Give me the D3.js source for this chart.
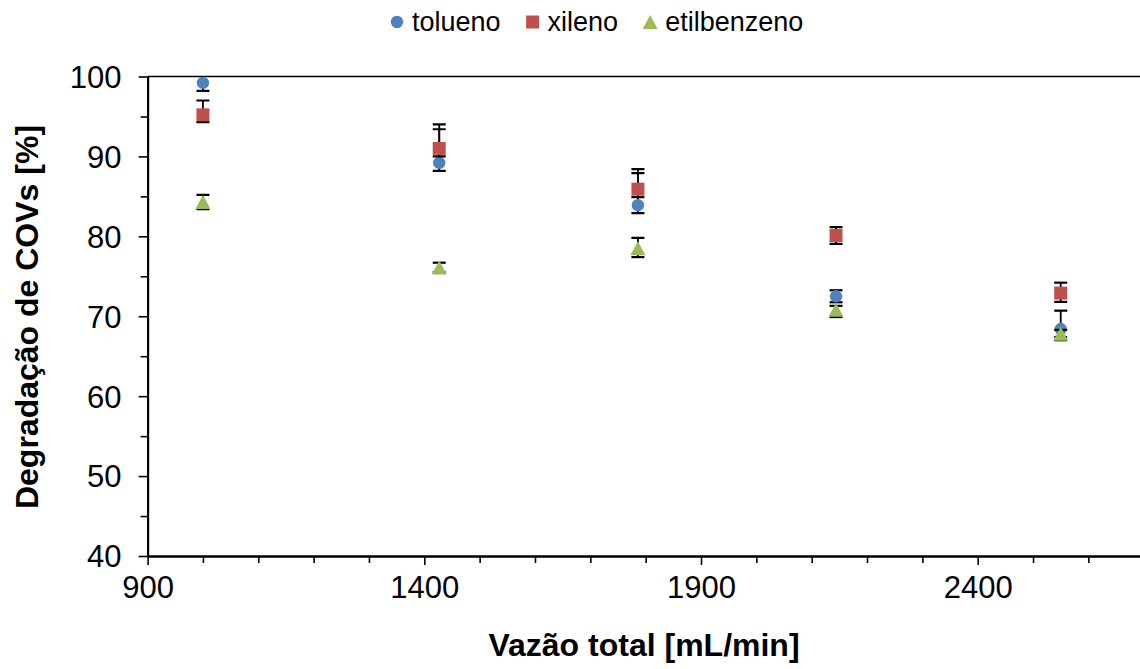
<!DOCTYPE html>
<html>
<head>
<meta charset="utf-8">
<script src="https://cdn.jsdelivr.net/npm/d3@7"></script>
<style>
  html, body { margin: 0; padding: 0; background: #fff; }
  svg { display: block; font-family: "Liberation Sans", Arial, sans-serif; }
</style>
</head>
<body>
<svg id="chart" width="1140" height="669"></svg>
<script>
// ---- data ----
const flows = [1000, 1427, 1786, 2144, 2550];
const seriesNames = ["tolueno", "xileno", "etilbenzeno"];
const tolueno = [99.2, 89.2, 83.9, 72.5, 68.4];
const toluenoPlus = [1.0, 4.2, 4.0, 0.75, 2.3];
const toluenoMinus = [1.0, 1.0, 1.0, 0.75, 1.0];
const xileno = [95.2, 91.0, 85.9, 80.1, 72.9];
const xilenoPlus = [1.8, 3.0, 2.5, 1.05, 1.3];
const xilenoMinus = [0.9, 1.0, 1.0, 1.05, 1.1];
const etilbenzeno = [84.3, 76.1, 78.5, 70.8, 67.8];
const etilbenzenoPlus = [0.9, 0.6, 1.3, 0.5, 0.5];
const etilbenzenoMinus = [0.9, 0.6, 1.1, 0.9, 0.8];
const xMajorTicks = [900, 1400, 1900, 2400];
const yMajorTicks = [40, 50, 60, 70, 80, 90, 100];
const xTitle = "Vazão total [mL/min]";
const yTitle = "Degradação de COVs [%]";

const colors = ["#4F81BD", "#C0504D", "#9BBB59"];
const shapes = ["circle", "square", "triangle"];

const series = [
  { name: seriesNames[0], values: tolueno, plus: toluenoPlus, minus: toluenoMinus },
  { name: seriesNames[1], values: xileno, plus: xilenoPlus, minus: xilenoMinus },
  { name: seriesNames[2], values: etilbenzeno, plus: etilbenzenoPlus, minus: etilbenzenoMinus }
];

// ---- layout ----
const svg = d3.select("#chart");
const plotLeft = 147.6, plotTop = 76.5, plotBottom = 556;
const x = d3.scaleLinear().domain([900, 2700]).range([plotLeft, plotLeft + 1800 * 0.5534]);
const y = d3.scaleLinear().domain([40, 100]).range([plotBottom, plotTop]);

svg.append("defs").append("clipPath").attr("id", "plotclip")
  .append("rect").attr("x", plotLeft).attr("y", plotTop).attr("width", 1140 - plotLeft).attr("height", plotBottom - plotTop);

function markerPath(shape, cx, cy) {
  if (shape === "circle") {
    const r = 6.2;
    return `M${cx - r},${cy}a${r},${r} 0 1,0 ${2 * r},0a${r},${r} 0 1,0 ${-2 * r},0Z`;
  } else if (shape === "square") {
    const h = 6.5;
    return `M${cx - h},${cy - h}H${cx + h}V${cy + h}H${cx - h}Z`;
  } else {
    const w = 7.5, h = 7;
    return `M${cx},${cy - h}L${cx + w},${cy + h}L${cx - w},${cy + h}Z`;
  }
}

// axes
const xMinor = d3.range(900, 2701, 100).filter(v => !xMajorTicks.includes(v));
const yMinor = d3.range(45, 100, 10);

const g = svg.append("g");
// top border
g.append("line").attr("x1", plotLeft).attr("x2", 1140).attr("y1", plotTop).attr("y2", plotTop)
  .attr("stroke", "#000").attr("stroke-width", 1.6);

const xAxis = d3.axisBottom(x).tickValues(xMajorTicks).tickSize(9).tickSizeOuter(0).tickFormat(d3.format("d"));
const xAxisMinor = d3.axisBottom(x).tickValues(xMinor).tickSize(7).tickSizeOuter(0).tickFormat("");
const yAxis = d3.axisLeft(y).tickValues(yMajorTicks).tickSize(9).tickSizeOuter(0).tickFormat(d3.format("d"));
const yAxisMinor = d3.axisLeft(y).tickValues(yMinor).tickSize(7).tickSizeOuter(0).tickFormat("");

function styleAxis(sel) {
  sel.select(".domain").attr("stroke", "#000").attr("stroke-width", 2);
  sel.selectAll(".tick line").attr("stroke", "#000").attr("stroke-width", 1.6);
  sel.selectAll(".tick text").attr("fill", "#000").style("font-size", "31px")
    .style("font-family", "'Liberation Sans', Arial, sans-serif");
}

g.append("g").attr("transform", `translate(0,${plotBottom})`).call(xAxisMinor).call(styleAxis);
const gx = g.append("g").attr("transform", `translate(0,${plotBottom})`).call(xAxis).call(styleAxis);
gx.selectAll(".tick text").attr("dy", null).attr("y", 42);
g.append("g").attr("transform", `translate(${plotLeft},0)`).call(yAxisMinor).call(styleAxis);
const gy = g.append("g").attr("transform", `translate(${plotLeft},0)`).call(yAxis).call(styleAxis);
gy.selectAll(".tick text").attr("x", -26).attr("dy", "0.35em");

// series
series.forEach((s, si) => {
  const sg = svg.append("g");
  const eg = sg.append("g").attr("clip-path", "url(#plotclip)");
  s.values.forEach((v, i) => {
    const cx = x(flows[i]);
    const yTop = y(v + s.plus[i]), yBot = y(v - s.minus[i]);
    eg.append("line").attr("x1", cx).attr("x2", cx).attr("y1", yTop).attr("y2", yBot)
      .attr("stroke", "#000").attr("stroke-width", 1.8);
    [yTop, yBot].forEach(yy => {
      eg.append("line").attr("x1", cx - 6.5).attr("x2", cx + 6.5).attr("y1", yy).attr("y2", yy)
        .attr("stroke", "#000").attr("stroke-width", 2.2);
    });
  });
  sg.selectAll("path.m").data(s.values).join("path").attr("class", "m")
    .attr("d", (v, i) => markerPath(shapes[si], x(flows[i]), y(v)))
    .attr("fill", colors[si]);
});

// titles
svg.append("text").attr("x", 644).attr("y", 656).attr("text-anchor", "middle")
  .style("font-size", "32px").style("font-weight", "bold").text(xTitle);
svg.append("text").attr("transform", `translate(38,317) rotate(-90)`).attr("text-anchor", "middle")
  .style("font-size", "32px").style("font-weight", "bold").text(yTitle);

// legend
const lg = svg.append("g");
let lx = 391;
const ly = 22;
series.forEach((s, si) => {
  lg.append("path").attr("d", markerPath(shapes[si], lx + 6, ly)).attr("fill", colors[si]);
  const t = lg.append("text").attr("x", lx + 21).attr("y", ly + 8.5)
    .style("font-size", "27px").text(s.name);
  const w = t.node().getComputedTextLength();
  lx = lx + 21 + w + 26;
});
</script>
</body>
</html>
